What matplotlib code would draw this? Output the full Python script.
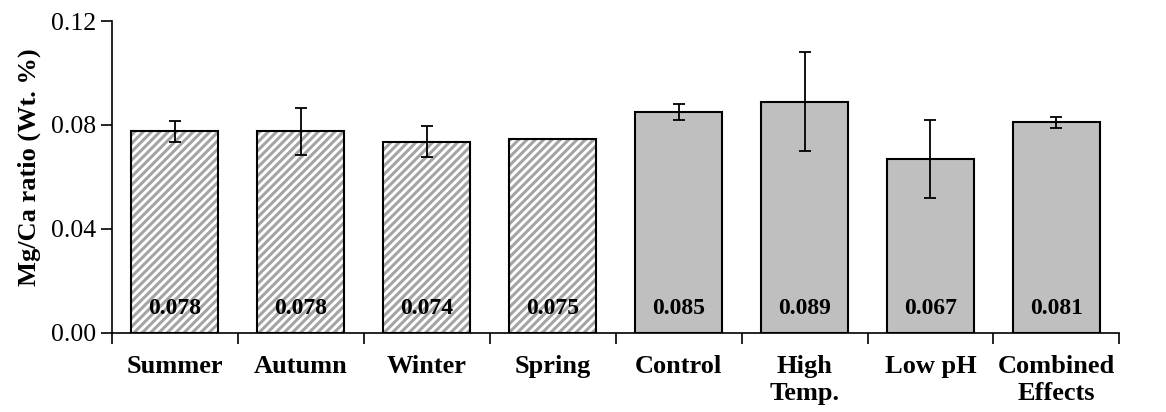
import matplotlib.pyplot as plt
import numpy as np

plt.rcParams['font.family'] = ['Liberation Serif', 'DejaVu Serif']
plt.rcParams['hatch.linewidth'] = 2.2

# Mg/Ca ratio per group
categories = ["Summer", "Autumn", "Winter", "Spring",
              "Control", "High\nTemp.", "Low pH", "Combined\nEffects"]
values = [0.0775, 0.0775, 0.0735, 0.0745, 0.085, 0.089, 0.067, 0.081]
errors = [0.004, 0.009, 0.006, 0.0, 0.003, 0.019, 0.015, 0.002]
value_labels = ["0.078", "0.078", "0.074", "0.075", "0.085", "0.089", "0.067", "0.081"]
is_field = [True, True, True, True, False, False, False, False]

fig = plt.figure(figsize=(11.66, 4.12), dpi=100)
ax = fig.add_axes([0.096, 0.192, 0.864, 0.757])

x = np.arange(len(categories))
for i in range(len(categories)):
    if is_field[i]:
        # hatch layer in grey, then a black outline on top
        ax.bar(x[i], values[i], width=0.69, color="white", edgecolor="#a4a4a4",
               linewidth=0, hatch="////", zorder=2)
        ax.bar(x[i], values[i], width=0.69, color="none", edgecolor="black",
               linewidth=1.5, zorder=2.5)
    else:
        ax.bar(x[i], values[i], width=0.69, color="#bfbfbf", edgecolor="black",
               linewidth=1.5, zorder=2)
    if errors[i] > 0:
        ax.errorbar(x[i], values[i], yerr=errors[i], fmt="none", ecolor="black",
                    elinewidth=1.3, capsize=4, capthick=1.3, zorder=3)
    ax.text(x[i], 0.0095, value_labels[i], ha="center", va="center",
            fontsize=17, fontweight="bold", zorder=4)

ax.set_xlim(-0.5, len(categories) - 0.5)
ax.set_ylim(0, 0.12)
ax.set_yticks([0.0, 0.04, 0.08, 0.12])
ax.set_yticklabels(["0.00", "0.04", "0.08", "0.12"], fontsize=18.5)
ax.set_ylabel("Mg/Ca ratio (Wt. %)", fontsize=19, fontweight="bold", labelpad=8)
ax.yaxis.set_label_coords(-0.07, 0.53)

ax.set_xticks(x)
ax.set_xticklabels(categories, fontsize=19, fontweight="bold", linespacing=1.2)
ax.tick_params(axis="x", which="major", length=0, pad=16)
ax.set_xticks(np.arange(-0.5, len(categories) + 0.5, 1), minor=True)
ax.tick_params(axis="x", which="minor", length=8, width=1.2, direction="out")
ax.tick_params(axis="y", length=8, width=1.2, direction="out")

for side in ["top", "right"]:
    ax.spines[side].set_visible(False)
for side in ["left", "bottom"]:
    ax.spines[side].set_linewidth(1.2)

fig.savefig("out.png", dpi=100)
